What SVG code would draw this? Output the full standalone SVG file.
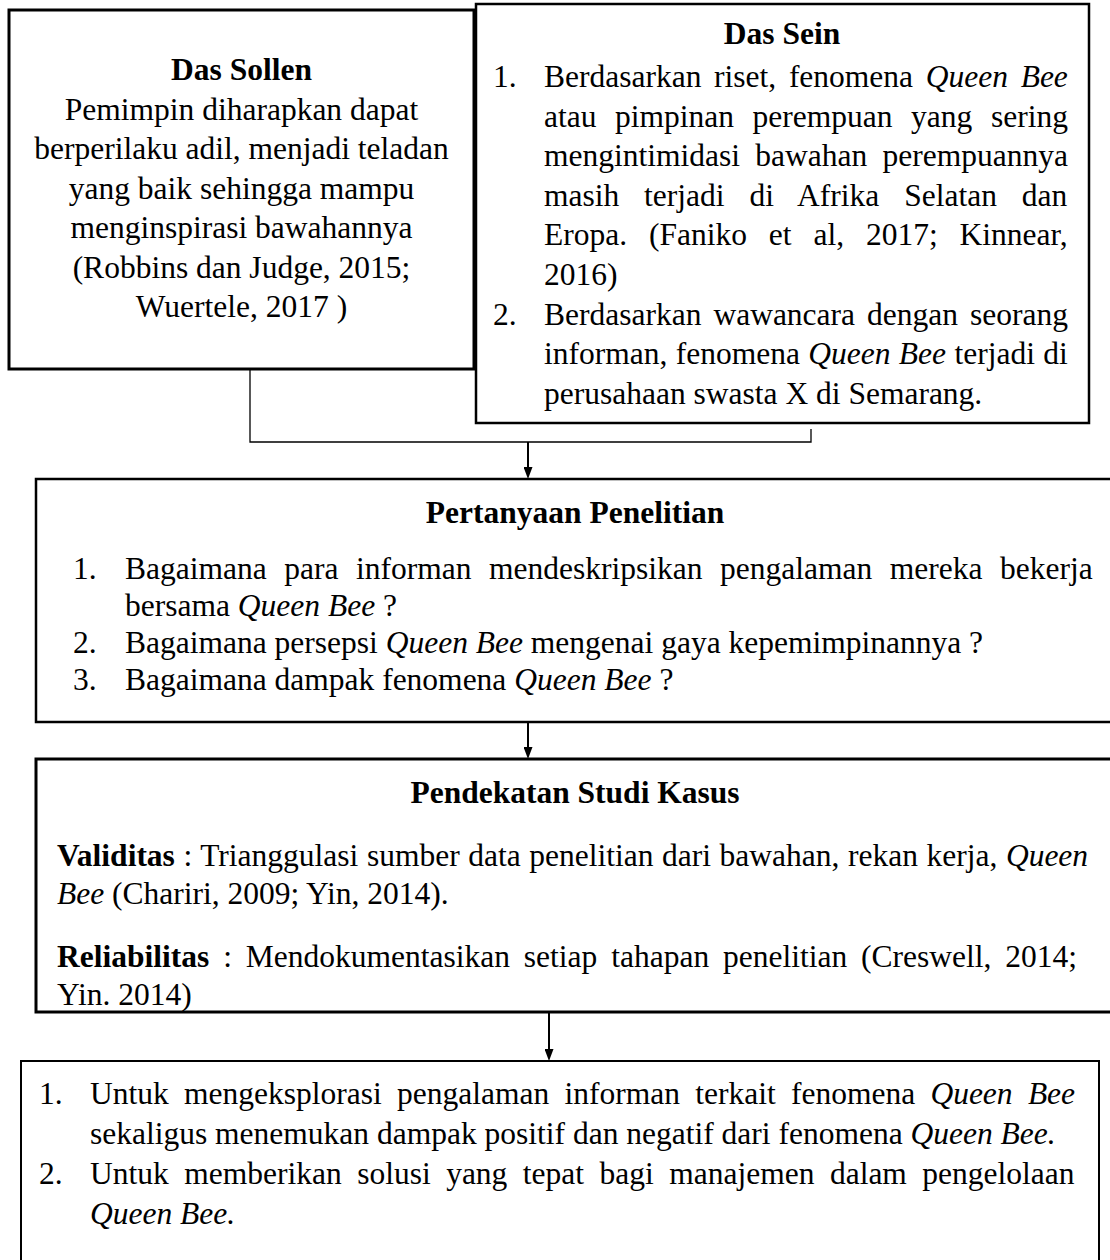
<svg xmlns="http://www.w3.org/2000/svg" width="1110" height="1260" viewBox="0 0 1110 1260">
<defs>
<style>
text{font-family:"Liberation Serif","Times New Roman",serif;font-size:31.5px;fill:#000}
.b{font-weight:bold}
.i{font-style:italic}
.c{text-anchor:middle}
.box{fill:#fff;stroke:#000}
.conn{stroke:#000;fill:none}
</style>
<marker id="ah" viewBox="0 0 12 9" refX="4" refY="4.5" markerWidth="12" markerHeight="9" markerUnits="userSpaceOnUse" orient="auto">
<path d="M0,0 L12,4.5 L0,9 z" fill="#000"/>
</marker>
</defs>
<rect width="1110" height="1260" fill="#fff"/>

<g id="das-sollen">
<rect class="box" x="9" y="10" width="465" height="359" stroke-width="3"/>
<text class="b c" x="241.5" y="80">Das Sollen</text>
<text class="c" x="241.5" y="120">Pemimpin diharapkan dapat</text>
<text class="c" x="241.5" y="159">berperilaku adil, menjadi teladan</text>
<text class="c" x="241.5" y="199">yang baik sehingga mampu</text>
<text class="c" x="241.5" y="238">menginspirasi bawahannya</text>
<text class="c" x="241.5" y="278">(Robbins dan Judge, 2015;</text>
<text class="c" x="241.5" y="317">Wuertele, 2017 )</text>
</g>

<g id="das-sein">
<rect class="box" x="476" y="4" width="613" height="419" stroke-width="2.5"/>
<text class="b c" x="782" y="44">Das Sein</text>
<text x="493" y="87">1.</text>
<text x="544" y="87" style="word-spacing:4.8px">Berdasarkan riset, fenomena <tspan class="i">Queen Bee</tspan></text>
<text x="544" y="127" style="word-spacing:10.7px">atau pimpinan perempuan yang sering</text>
<text x="544" y="166" style="word-spacing:7.4px">mengintimidasi bawahan perempuannya</text>
<text x="544" y="206" style="word-spacing:17px">masih terjadi di Afrika Selatan dan</text>
<text x="544" y="245" style="word-spacing:14px">Eropa. (Faniko et al, 2017; Kinnear,</text>
<text x="544" y="285">2016)</text>
<text x="493" y="325">2.</text>
<text x="544" y="325" style="word-spacing:4.1px">Berdasarkan wawancara dengan seorang</text>
<text x="544" y="364" style="word-spacing:0.5px">informan, fenomena <tspan class="i">Queen Bee</tspan> terjadi di</text>
<text x="544" y="404">perusahaan swasta X di Semarang.</text>
</g>

<g id="pertanyaan-penelitian">
<rect class="box" x="36" y="479" width="1078" height="243" stroke-width="2.5"/>
<text class="b c" x="575" y="523">Pertanyaan Penelitian</text>
<text x="73" y="579">1.</text>
<text x="125" y="579" style="word-spacing:9.7px">Bagaimana para informan mendeskripsikan pengalaman mereka bekerja</text>
<text x="125" y="616">bersama <tspan class="i">Queen Bee</tspan> ?</text>
<text x="73" y="653">2.</text>
<text x="125" y="653">Bagaimana persepsi <tspan class="i">Queen Bee</tspan> mengenai gaya kepemimpinannya ?</text>
<text x="73" y="690">3.</text>
<text x="125" y="690">Bagaimana dampak fenomena <tspan class="i">Queen Bee</tspan> ?</text>
</g>

<g id="pendekatan-studi-kasus">
<rect class="box" x="36" y="759" width="1078" height="253" stroke-width="3"/>
<text class="b c" x="575" y="803">Pendekatan Studi Kasus</text>
<text x="57" y="866" style="word-spacing:0.7px"><tspan class="b">Validitas</tspan> : Trianggulasi sumber data penelitian dari bawahan, rekan kerja, <tspan class="i">Queen</tspan></text>
<text x="57" y="904"><tspan class="i">Bee</tspan> (Chariri, 2009; Yin, 2014).</text>
<text x="57" y="967" style="word-spacing:6px"><tspan class="b">Reliabilitas</tspan> : Mendokumentasikan setiap tahapan penelitian (Creswell, 2014;</text>
<text x="57" y="1005">Yin. 2014)</text>
</g>

<g id="tujuan">
<rect class="box" x="21" y="1061" width="1078" height="220" stroke-width="2"/>
<text x="39" y="1104">1.</text>
<text x="90" y="1104" style="word-spacing:7.4px">Untuk mengeksplorasi pengalaman informan terkait fenomena <tspan class="i">Queen Bee</tspan></text>
<text x="90" y="1144">sekaligus menemukan dampak positif dan negatif dari fenomena <tspan class="i">Queen Bee.</tspan></text>
<text x="39" y="1184">2.</text>
<text x="90" y="1184" style="word-spacing:7.6px">Untuk memberikan solusi yang tepat bagi manajemen dalam pengelolaan</text>
<text class="i" x="90" y="1224">Queen Bee.</text>
</g>

<g id="connectors">
<polyline class="conn" stroke-width="1.3" points="250,369 250,442 811,442 811,429"/>
<line class="conn" stroke-width="2" x1="528" y1="442" x2="528" y2="471" marker-end="url(#ah)"/>
<line class="conn" stroke-width="2" x1="528" y1="722" x2="528" y2="751" marker-end="url(#ah)"/>
<line class="conn" stroke-width="2" x1="549" y1="1012" x2="549" y2="1053" marker-end="url(#ah)"/>
</g>
</svg>
